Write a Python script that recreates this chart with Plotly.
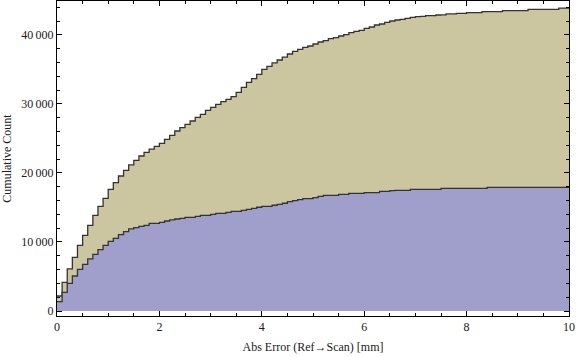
import plotly.graph_objects as go

bin_width = 0.1
n_bins = 100
bin_edges = [round(i * bin_width, 1) for i in range(n_bins + 1)]

upper_cum = [
    2170, 4160, 6090, 7780, 9520, 10970, 12420, 13870, 15170, 16330,
    17630, 18600, 19560, 20390, 21160, 21840, 22460, 22990, 23470, 23860,
    24300, 24880, 25460, 26080, 26560, 27050, 27530, 28060, 28500, 29080,
    29510, 29950, 30330, 30670, 31050, 31690, 32410, 33140, 33660, 34290,
    35010, 35450, 35940, 36370, 36800, 37240, 37630, 37920, 38210, 38400,
    38690, 38980, 39170, 39460, 39600, 39850, 40040, 40330, 40520, 40670,
    40960, 41150, 41440, 41590, 41830, 42020, 42170, 42250, 42400, 42550,
    42650, 42700, 42800, 42800, 42890, 42900, 43040, 43040, 43130, 43140,
    43230, 43230, 43230, 43370, 43370, 43370, 43370, 43520, 43520, 43520,
    43520, 43520, 43710, 43710, 43710, 43710, 43710, 43710, 43900, 43900,
]

lower_cum = [
    1350, 2700, 4010, 5070, 6040, 6770, 7540, 8210, 8890, 9520,
    10100, 10530, 11060, 11490, 11890, 12080, 12270, 12410, 12700, 12700,
    12850, 13040, 13190, 13330, 13430, 13570, 13570, 13720, 13860, 13860,
    14010, 14150, 14150, 14300, 14440, 14440, 14590, 14730, 14880, 15030,
    15170, 15170, 15320, 15460, 15610, 15840, 15990, 16130, 16280, 16280,
    16420, 16620, 16760, 16760, 16760, 16910, 16910, 17050, 17050, 17050,
    17150, 17150, 17150, 17340, 17340, 17440, 17480, 17480, 17480, 17630,
    17630, 17630, 17630, 17630, 17630, 17770, 17770, 17770, 17770, 17770,
    17770, 17770, 17770, 17770, 17920, 17920, 17920, 17920, 17920, 17920,
    17920, 17920, 17920, 17920, 17920, 17920, 17920, 17920, 17920, 17920,
]

y_tick_vals = [0, 10000, 20000, 30000, 40000]
y_tick_text = ["0", "10\u2009000", "20\u2009000", "30\u2009000", "40\u2009000"]
x_tick_vals = [0, 2, 4, 6, 8, 10]
x_tick_text = ["0", "2", "4", "6", "8", "10"]

FONT = "Liberation Serif, Times New Roman, serif"

fig = go.Figure()
for vals, fillc in [(upper_cum, "#CBC69F"), (lower_cum, "#A09ECB")]:
    fig.add_trace(go.Scatter(
        x=bin_edges,
        y=vals + [vals[-1]],
        mode="lines",
        line=dict(shape="hv", color="#333333", width=1.3),
        fill="tozeroy",
        fillcolor=fillc,
        hoverinfo="skip",
        showlegend=False,
    ))

axis_common = dict(
    showline=True, linecolor="black", linewidth=1, mirror="allticks",
    ticks="inside", ticklen=5, tickcolor="black", tickwidth=1,
    showgrid=False, zeroline=False, automargin=False,
    tickfont=dict(family=FONT, size=12, color="#1a1a1a"),
)

fig.update_xaxes(
    range=[0, 10], tickvals=x_tick_vals, ticktext=x_tick_text,
    minor=dict(ticks="inside", ticklen=3, tickcolor="black", dtick=0.5, tick0=0),
    title=dict(text="Abs Error (Ref\u2192Scan) [mm]", font=dict(family=FONT, size=12, color="#1a1a1a"), standoff=9),
    **axis_common,
)
fig.update_yaxes(
    range=[-725, 44920], tickvals=y_tick_vals, ticktext=y_tick_text,
    minor=dict(ticks="inside", ticklen=3, tickcolor="black", dtick=2000, tick0=0),
    title=dict(text="Cumulative Count", font=dict(family=FONT, size=12, color="#1a1a1a"), standoff=6),
    **axis_common,
)

fig.update_layout(
    width=576, height=357,
    margin=dict(l=57, r=7, t=1, b=41),
    plot_bgcolor="white", paper_bgcolor="white",
)

fig.write_html(
    "out.html",
    config={"displayModeBar": False},
    post_script="document.body.style.margin='0';document.body.style.overflow='hidden';",
)
